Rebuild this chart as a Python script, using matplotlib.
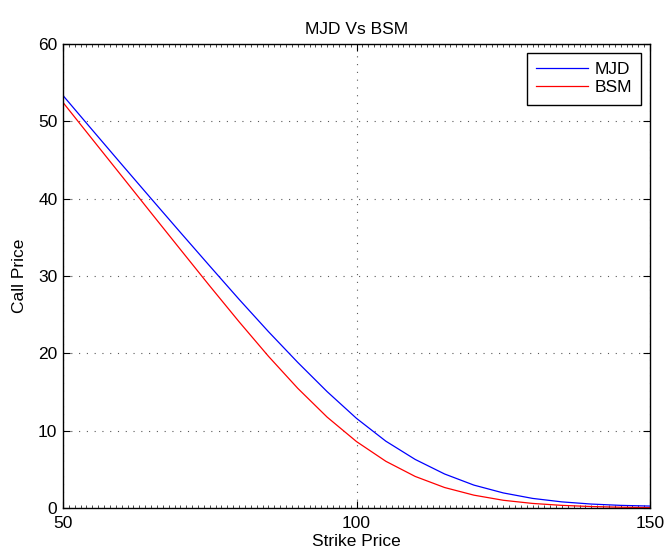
import matplotlib
matplotlib.use("Agg")
import matplotlib.pyplot as plt
from matplotlib.ticker import MultipleLocator

plt.rcParams['font.family'] = ['Liberation Sans', 'DejaVu Sans']

# Strike prices and call prices for the two models
strike = [50, 55, 60, 65, 70, 75, 80, 85, 90, 95, 100,
          105, 110, 115, 120, 125, 130, 135, 140, 145, 150]
mjd_price = [53.34, 48.875, 44.43, 40.02, 35.635, 31.29, 26.98, 22.805, 18.82, 15.045, 11.59,
             8.64, 6.28, 4.40, 2.96, 1.95, 1.24, 0.79, 0.51, 0.34, 0.25]
bsm_price = [52.44, 47.68, 42.93, 38.17, 33.43, 28.71, 24.08, 19.62, 15.47, 11.75, 8.59,
             6.04, 4.08, 2.65, 1.66, 1.00, 0.59, 0.34, 0.19, 0.10, 0.05]

x_ticks = [50, 100, 150]
y_ticks = [0, 10, 20, 30, 40, 50, 60]

fig = plt.figure(figsize=(6.66, 5.52), dpi=100)
ax = fig.add_axes([63 / 666, 44 / 552, 587 / 666, 464 / 552])

ax.plot(strike, mjd_price, color='blue', lw=0.9, label='MJD')
ax.plot(strike, bsm_price, color='red', lw=0.9, label='BSM')

ax.set_xlim(50, 150)
ax.set_ylim(0, 60)
ax.set_xticks(x_ticks)
ax.set_yticks(y_ticks)
ax.xaxis.set_minor_locator(MultipleLocator(1))

ax.grid(True, which='major', color='0.35', linestyle=(0, (1, 6)), lw=0.8)
ax.tick_params(which='major', direction='in', length=5, width=0.8,
               top=True, right=True, labelsize=12.5)
ax.tick_params(axis='x', which='major', pad=6)
ax.tick_params(axis='y', which='major', pad=4)
ax.tick_params(which='minor', direction='in', length=2, width=0.5,
               top=True, right=False)
for s in ax.spines.values():
    s.set_linewidth(1.0)
    s.set_color('black')

ax.set_title('MJD Vs BSM', fontsize=12.5, pad=7)
ax.set_xlabel('Strike Price', fontsize=12.5, labelpad=2)
ax.set_ylabel('Call Price', fontsize=12.5, labelpad=8)

leg = ax.legend(loc='upper right', fontsize=12.5, fancybox=False, framealpha=1,
                edgecolor='black', borderaxespad=0.5, handlelength=3.0,
                handletextpad=0.35, borderpad=0.55, labelspacing=0.15)
leg.get_frame().set_linewidth(1.0)

fig.savefig('out.png', dpi=100)
